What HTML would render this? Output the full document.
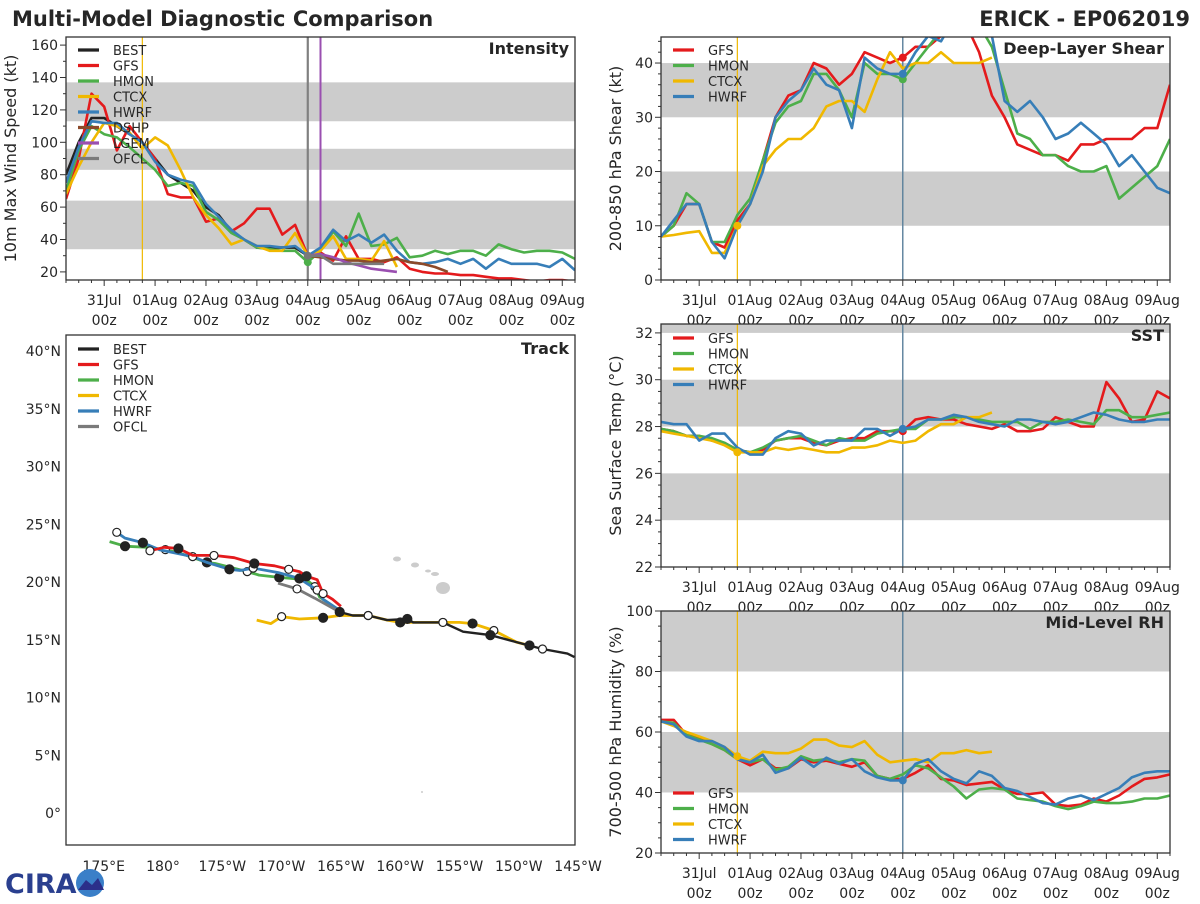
<!DOCTYPE html>
<html><head><meta charset="utf-8"><style>
body{margin:0;background:#fff;width:1200px;height:900px;overflow:hidden;font-family:"DejaVu Sans","Liberation Sans",sans-serif;}
svg text{font-family:"DejaVu Sans","Liberation Sans",sans-serif;fill:#262626;}
</style></head><body>
<svg id="chart" width="1200" height="900" viewBox="0 0 1200 900">
<text x="12" y="26" font-size="21" font-weight="bold">Multi-Model Diagnostic Comparison</text>
<text x="1190" y="26" font-size="21" font-weight="bold" text-anchor="end">ERICK - EP062019</text>
<g id="logo">
<text x="5" y="893" font-size="27" font-weight="bold" style="fill:#2a3f8f">CIRA</text>
<circle cx="90" cy="883" r="14" fill="#3a7fc8"/><path d="M78 890 L86 880 L92 885 L98 878 L104 890 Z" fill="#2b2f8a"/>
</g>
</svg>
<script>
// ---------- DATA ----------
const tStart = -4.75, tStep = 0.25; // days relative to 04Aug 00z
const dayLabels = ["31Jul","01Aug","02Aug","03Aug","04Aug","05Aug","06Aug","07Aug","08Aug","09Aug"];
const dayOffsets = [-4,-3,-2,-1,0,1,2,3,4,5];

const intBEST = [80,100,115,115,110,105,100,90,80,75,70,60,55,45,40,35,35,35,35,30];
const intGFS = [65,90,130,122,95,110,100,90,68,66,66,51,53,45,50,59,59,43,49,30,32,27,42,28,28,26,29,22,20,19,19,18,18,17,16,16,15,14,15,15,14];
const intHMON = [70,95,110,105,103,97,90,83,73,75,73,57,52,44,40,35,34,33,33,26,33,45,36,56,36,37,41,29,30,33,31,33,33,30,37,34,32,33,33,32,28];
const intCTCX = [68,85,100,112,110,106,96,103,98,83,66,55,47,37,40,36,33,33,44,30,33,42,28,28,27,39,23];
const intHWRF = [75,97,113,112,112,105,100,88,80,77,75,62,54,46,40,36,36,35,36,30,35,46,39,43,38,43,33,26,25,26,28,25,28,22,28,25,25,25,23,28,21];
const intDSHP = [30,29,28,27,27,26,27,28,26,25,23,20];
const intLGEM = [30,31,29,26,24,22,21,20];
const intOFCL = [30,30,25,25,25,25,25];

const shGFS = [8,10,14,14,7,6,11,14,22,30,34,35,40,39,36,38,42,41,40,41,43,43,45,47,47,42,34,30,25,24,23,23,22,25,25,26,26,26,28,28,36];
const shHMON = [8,10,16,14,7,7,12,15,22,29,32,33,38,38,35,30,40,38,38,37,40,43,46,48,48,47,43,35,27,26,23,23,21,20,20,21,15,17,19,21,26];
const shCTCX = [8,8.3,8.7,9,5,5,10,14,21,24,26,26,28,32,33,33,31,37,42,39,40,40,42,40,40,40,41];
const shHWRF = [8,11,14,14,7,4,10,14,20,30,33,35,39,36,35,28,41,39,38,38,42,45,44,48,48,48,45,33,31,33,30,26,27,29,27,25,21,23,20,17,16];

const sstGFS = [27.9,27.8,27.6,27.6,27.4,27.3,27.0,26.9,27.0,27.4,27.5,27.5,27.3,27.2,27.4,27.5,27.5,27.8,27.8,27.8,28.3,28.4,28.3,28.3,28.1,28.0,27.9,28.1,27.8,27.8,27.9,28.4,28.2,28.0,28.0,29.9,29.2,28.2,28.3,29.5,29.2];
const sstHMON = [27.9,27.8,27.6,27.6,27.5,27.3,27.0,26.9,27.1,27.4,27.5,27.6,27.4,27.2,27.5,27.4,27.4,27.7,27.8,27.9,27.9,28.3,28.3,28.4,28.4,28.3,28.2,28.2,28.2,27.9,28.2,28.2,28.3,28.2,28.1,28.7,28.7,28.4,28.4,28.5,28.6];
const sstCTCX = [27.8,27.7,27.6,27.5,27.4,27.2,26.9,26.9,26.9,27.1,27.0,27.1,27.0,26.9,26.9,27.1,27.1,27.2,27.4,27.3,27.4,27.8,28.1,28.1,28.4,28.4,28.6];
const sstHWRF = [28.2,28.1,28.1,27.4,27.7,27.7,27.1,26.8,26.8,27.5,27.8,27.7,27.2,27.4,27.4,27.4,27.9,27.9,27.6,27.9,28.0,28.3,28.3,28.5,28.4,28.2,28.1,28.0,28.3,28.3,28.2,28.1,28.2,28.4,28.6,28.5,28.3,28.2,28.2,28.3,28.3];

const rhGFS = [64,64,59,58,56,54,51,49,51,48,48,51,50,50.5,49.5,48.5,50,45.5,44.5,44.5,46.5,49,44.5,44,42.5,43,43.5,41,39.5,39.5,40,36,35.5,36,38,37,39,42,44.5,45,46];
const rhHMON = [63.5,63,59,57.5,56,54,51,50,51,47.5,48.5,52,50.5,51,50,51,50.5,45.5,44.5,46,49,48,45,42,38,41,41.5,41,38,37.5,37,35.5,34.5,35.5,37,36.5,36.5,37,38,38,39];
const rhCTCX = [63.5,62,60,58.5,57,55,52,50.5,53.5,53,53,54.5,57.5,57.5,55.5,55,57,52.5,50,50.5,51,50,53,53,54,53,53.5];
const rhHWRF = [63.5,62.5,58.5,57,57,55,51,50,52.5,46.5,48,51.5,48.5,51.5,49.5,51,47,45,44,44,49.5,51,47,44.5,43,47,45.5,41.5,40.5,38.5,36.5,36,38,39,37.5,39.5,41.5,45,46.5,47,47];

// Track (longitude in degrees east 0-360, latitude in degrees north)
const bestLon = [214.7,214.1,212.0,209.8,207.6,205.3,203.6,201.1,200.6,198.9,197.3,196.0,194.9];
const bestLat = [13.5,13.8,14.2,14.8,15.4,15.7,16.5,16.5,16.8,16.7,17.1,17.1,17.4];
const ofclLon = [194.9,192.8,191.3,189.7];
const ofclLat = [17.4,18.6,19.4,19.9];
const ctcxLon = [187.9,189.1,190.0,191.5,193.5,194.9,197.3,198.9,200.0,201.1,203.6,205.0,206.1,207.0,207.9,209.8,210.9];
const ctcxLat = [16.7,16.4,17.0,16.8,16.9,17.1,17.1,16.7,16.5,16.5,16.5,16.5,16.4,16.1,15.8,14.8,14.5];
const gfsLon = [195.0,194.3,193.5,193.0,192.1,191.5,190.6,189.4,187.7,186.0,184.3,182.5,181.3,180.1,178.9];
const gfsLat = [17.9,18.5,19.0,20.2,20.5,20.9,21.1,21.4,21.6,22.1,22.3,22.3,22.9,23.0,22.7];
const hwrfLon = [194.8,193.5,193.0,192.1,191.5,189.8,187.6,186.5,185.6,183.7,182.5,179.7,178.3,176.8,176.1];
const hwrfLat = [17.6,18.5,19.3,19.9,20.3,20.8,21.2,21.0,21.1,21.7,22.2,22.8,23.4,23.8,24.3];
const hmonLon = [194.8,193.2,192.8,192.1,189.8,188.1,187.1,184.4,183.7,181.4,180.2,178.7,176.8,175.5];
const hmonLat = [17.6,18.7,19.6,20.2,20.4,20.6,20.9,21.6,21.7,22.5,22.8,23.0,23.1,23.5];
const lonTicks = [175,180,185,190,195,200,205,210,215];
const lonLabels = ["175°E","180°","175°W","170°W","165°W","160°W","155°W","150°W","145°W"];
const latTicks = [0,5,10,15,20,25,30,35,40];
const latLabels = ["0°","5°N","10°N","15°N","20°N","25°N","30°N","35°N","40°N"];

// ---------- DRAWING ----------
const C = {BEST:"#222222",GFS:"#e41a1c",HMON:"#4daf4a",CTCX:"#f0b800",HWRF:"#377eb8",DSHP:"#8c4a2a",LGEM:"#9a4fb0",OFCL:"#7a7a7a"};
const svg = document.getElementById('chart');
const NS = "http://www.w3.org/2000/svg";
function mk(tag, attrs, parent){const e=document.createElementNS(NS,tag);for(const k in attrs)e.setAttribute(k,attrs[k]);(parent||svg).appendChild(e);return e;}

function panel(cfg){
  const g = mk('g',{});
  
  
  const X = t => cfg.x0 + (t - tStart)/10*(cfg.x1-cfg.x0);
  const Y = v => cfg.y1 - (v-cfg.ymin)/(cfg.ymax-cfg.ymin)*(cfg.y1-cfg.y0);
  const clip = mk('clipPath',{id:'clip-'+cfg.name},g);
  mk('rect',{x:cfg.x0,y:cfg.y0,width:cfg.x1-cfg.x0,height:cfg.y1-cfg.y0},clip);
  cfg.bands.forEach(b=>{
    const y1=Y(Math.min(b[1],cfg.ymax)), y2=Y(b[0]);
    const r=mk('rect',{x:cfg.x0,y:y1,width:cfg.x1-cfg.x0,height:y2-y1,fill:'#cccccc'},g);
    
    
  });
  cfg.vlines.forEach(v=>{
    const l=mk('line',{x1:X(v.t),x2:X(v.t),y1:cfg.y0,y2:cfg.y1,stroke:v.c,'stroke-width':v.w},g);
    
    
  });
  const sg = mk('g',{'clip-path':'url(#clip-'+cfg.name+')'},g);
  cfg.series.forEach(s=>{
    const t0 = (s.t0===undefined)?tStart:s.t0;
    const pts = s.v.map((v,i)=>X(t0+i*tStep).toFixed(1)+','+Y(v).toFixed(1)).join(' ');
    const p=mk('polyline',{points:pts,fill:'none',stroke:C[s.k],'stroke-width':2.6,'stroke-linejoin':'round'},sg);
    
    
  });
  (cfg.dots||[]).forEach(d=>{
    const s=cfg.series.find(q=>q.k===d.k);const t0=(s.t0===undefined)?tStart:s.t0;const i=Math.round((d.t-t0)/tStep);
    const c=mk('circle',{cx:X(d.t),cy:Y(s.v[i]),r:4,fill:C[d.k]},sg);
    
    
  });
  mk('rect',{x:cfg.x0,y:cfg.y0,width:cfg.x1-cfg.x0,height:cfg.y1-cfg.y0,fill:'none',stroke:'#333','stroke-width':1.3},g);
  for(let v=cfg.ymin0; v<=cfg.ymax+1e-6; v+=cfg.minor){
    const y=Y(v); if(y<cfg.y0-0.5) continue;
    const major = Math.abs(Math.round(v/cfg.major)*cfg.major - v)<1e-6;
    mk('line',{x1:cfg.x0-(major?6:3),x2:cfg.x0,y1:y,y2:y,stroke:'#333','stroke-width':1},g);
    if(major){const t=mk('text',{x:cfg.x0-8,y:y+5,'font-size':14,'text-anchor':'end'},g);t.textContent=v;
      }
  }
  for(let t=tStart;t<=5.25+1e-6;t+=tStep){
    const major=Math.abs(t-Math.round(t))<1e-6;
    mk('line',{x1:X(t),x2:X(t),y1:cfg.y1,y2:cfg.y1+(major?6:3),stroke:'#333','stroke-width':1},g);
  }
  if(cfg.xlabels){
    dayOffsets.forEach((d,i)=>{
      const t=mk('text',{x:X(d),y:cfg.y1+25,'font-size':14,'text-anchor':'middle'},g);t.textContent=dayLabels[i];
      
      const t2=mk('text',{x:X(d),y:cfg.y1+45,'font-size':14,'text-anchor':'middle'},g);t2.textContent='00z';
      
    });
  }
  const yt=mk('text',{x:0,y:0,'font-size':16,'text-anchor':'middle',transform:`translate(${cfg.ytx},${(cfg.y0+cfg.y1)/2}) rotate(-90)`},g);
  yt.textContent=cfg.ytitle;
  
  const pt=mk('text',{x:cfg.x1-6,y:cfg.y0+17,'font-size':16,'font-weight':'bold','text-anchor':'end'},g);pt.textContent=cfg.title;
  
  legend(g,cfg.x0+12,cfg.legY,cfg.series.map(s=>s.k).concat(cfg.extraLeg||[]));
}
function legend(g,x,y,keys){
  keys.forEach((k,i)=>{
    const yy=y+i*15.5;
    const l=mk('line',{x1:x,x2:x+21,y1:yy,y2:yy,stroke:C[k],'stroke-width':3.2},g);
    
    const t=mk('text',{x:x+35,y:yy+5,'font-size':13},g);t.textContent=k;
    
  });
}

panel({name:'intensity-panel',x0:66,x1:575,y0:37,y1:280,ymin:15,ymax:165,ymin0:20,major:20,minor:10,
  bands:[[34,64],[83,96],[113,137]],ytitle:'10m Max Wind Speed (kt)',ytx:16,title:'Intensity',xlabels:true,legY:50,
  vlines:[{t:-3.25,c:C.CTCX,w:1.2},{t:0,c:'#808080',w:2.2},{t:0.25,c:C.LGEM,w:2}],
  series:[{k:'BEST',v:intBEST},{k:'GFS',v:intGFS},{k:'HMON',v:intHMON},{k:'CTCX',v:intCTCX},{k:'HWRF',v:intHWRF},{k:'DSHP',v:intDSHP,t0:0},{k:'LGEM',v:intLGEM,t0:0},{k:'OFCL',v:intOFCL,t0:0}],
  dots:[{k:'HMON',t:0},{k:'OFCL',t:0}]});
panel({name:'shear-panel',x0:661,x1:1170,y0:37,y1:280,ymin:0,ymax:44.8,ymin0:0,major:10,minor:2,
  bands:[[10,20],[30,40]],ytitle:'200-850 hPa Shear (kt)',ytx:621,title:'Deep-Layer Shear',xlabels:true,legY:50,
  vlines:[{t:-3.25,c:C.CTCX,w:1.2},{t:0,c:'#5a7f9a',w:1.4}],
  series:[{k:'GFS',v:shGFS},{k:'HMON',v:shHMON},{k:'CTCX',v:shCTCX},{k:'HWRF',v:shHWRF}],
  dots:[{k:'GFS',t:0},{k:'HMON',t:0},{k:'HWRF',t:0},{k:'CTCX',t:-3.25}]});
panel({name:'sst-panel',x0:661,x1:1170,y0:324,y1:567,ymin:22,ymax:32.38,ymin0:22,major:2,minor:0.5,
  bands:[[24,26],[28,30],[32,33]],ytitle:'Sea Surface Temp (°C)',ytx:621,title:'SST',xlabels:true,legY:338,
  vlines:[{t:-3.25,c:C.CTCX,w:1.2},{t:0,c:'#5a7f9a',w:1.4}],
  series:[{k:'GFS',v:sstGFS},{k:'HMON',v:sstHMON},{k:'CTCX',v:sstCTCX},{k:'HWRF',v:sstHWRF}],
  dots:[{k:'GFS',t:0},{k:'HWRF',t:0},{k:'CTCX',t:-3.25}]});
panel({name:'rh-panel',x0:661,x1:1170,y0:611,y1:853,ymin:20,ymax:100,ymin0:20,major:20,minor:5,
  bands:[[40,60],[80,100]],ytitle:'700-500 hPa Humidity (%)',ytx:621,title:'Mid-Level RH',xlabels:true,legY:793,
  vlines:[{t:-3.25,c:C.CTCX,w:1.2},{t:0,c:'#5a7f9a',w:1.4}],
  series:[{k:'GFS',v:rhGFS},{k:'HMON',v:rhHMON},{k:'CTCX',v:rhCTCX},{k:'HWRF',v:rhHWRF}],
  dots:[{k:'HWRF',t:0},{k:'CTCX',t:-3.25}]});

// Track panel
(function(){
  const x0=66,x1=575,y0=335,y1=845;
  const g=mk('g',{});
  
  
  const LX=lon=>163+(lon-180)*11.86, LY=lat=>813-lat*11.55;
  [[397,559,4,2.5],[415,565,4,2.5],[428,571,3,1.5],[435,574,4,2],[443,588,7,6]].forEach(a=>{
    const e=mk('ellipse',{cx:a[0],cy:a[1],rx:a[2],ry:a[3],fill:'#cccccc'},g);
    
  });
  mk('circle',{cx:422,cy:792,r:1,fill:'#ccc'},g);
  mk('rect',{x:x0,y:y0,width:x1-x0,height:y1-y0,fill:'none',stroke:'#333','stroke-width':1.3},g);
  latTicks.forEach((la,i)=>{const t=mk('text',{x:61,y:LY(la)+5,'font-size':14,'text-anchor':'end'},g);t.textContent=latLabels[i];
    });
  lonTicks.forEach((lo,i)=>{const t=mk('text',{x:LX(lo),y:871,'font-size':14,'text-anchor':'middle'},g);t.textContent=lonLabels[i];
    });
  const tg=mk('g',{},g);
  const tracks=[['CTCX',ctcxLon,ctcxLat],['HMON',hmonLon,hmonLat],['HWRF',hwrfLon,hwrfLat],['GFS',gfsLon,gfsLat],['OFCL',ofclLon,ofclLat],['BEST',bestLon,bestLat]];
  tracks.forEach(tr=>{
    const pts=tr[1].map((lo,i)=>LX(lo).toFixed(1)+','+LY(tr[2][i]).toFixed(1)).join(' ');
    const p=mk('polyline',{points:pts,fill:'none',stroke:C[tr[0]],'stroke-width':tr[0]==='BEST'?2.4:2.8,'stroke-linejoin':'round'},tg);
    
    
    tr[1].forEach((lo,i)=>{
      if(i===0) return;
      if(i%2===0){
        const c=mk('circle',{cx:LX(lo),cy:LY(tr[2][i]),r:i%4===0?4.5:4,fill:i%4===0?'#222':'#fff',stroke:'#222','stroke-width':1.2},tg);
        
      }
    });
  });
  const pt=mk('text',{x:x1-6,y:y0+19,'font-size':16,'font-weight':'bold','text-anchor':'end'},g);pt.textContent='Track';
  
  legend(g,78,349,['BEST','GFS','HMON','CTCX','HWRF','OFCL']);
})();
svg.appendChild(document.getElementById('logo'));
</script>
</body></html>
